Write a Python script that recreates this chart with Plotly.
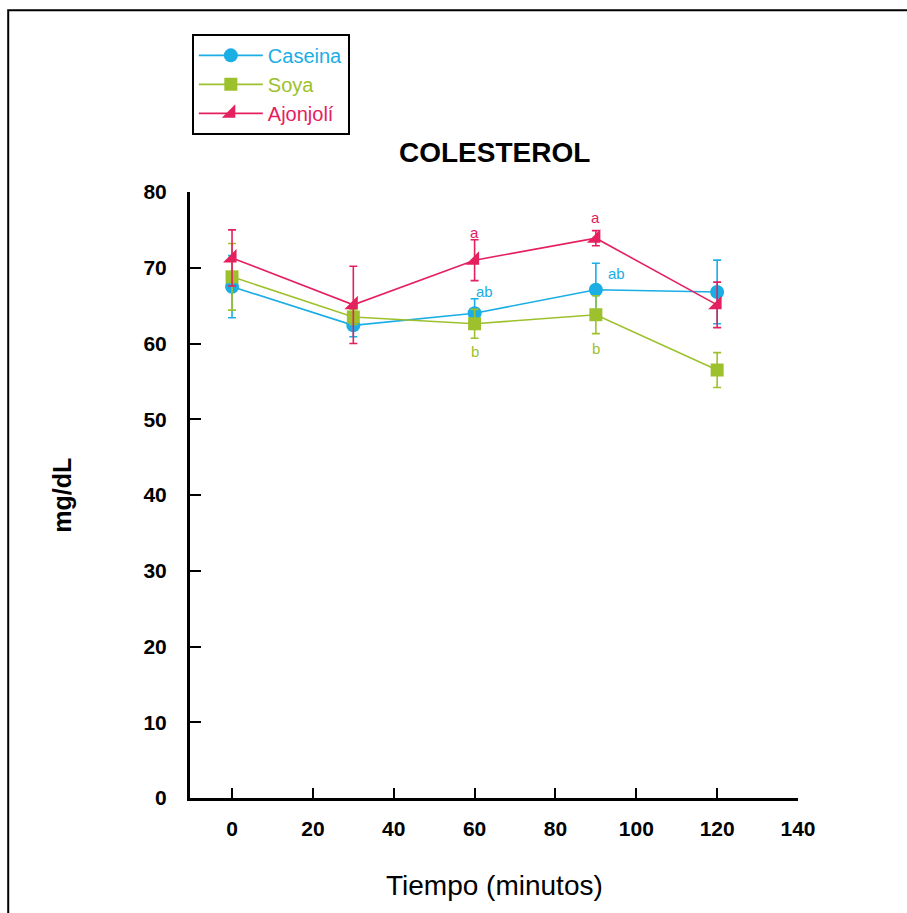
import plotly.graph_objects as go

tiempo = [0, 30, 60, 90, 120]
caseina = [67.5, 62.4, 64.0, 67.1, 66.8]
caseina_err = [4.1, 1.5, 1.9, 3.5, 4.2]
soya = [68.8, 63.5, 62.6, 63.8, 56.5]
soya_err = [4.4, 1.0, 1.9, 2.5, 2.3]
ajonjoli = [71.3, 65.1, 71.0, 73.9, 65.1]
ajonjoli_err = [3.7, 5.1, 2.7, 1.0, 3.0]

x_ticks = [0, 20, 40, 60, 80, 100, 120, 140]
y_ticks = [0, 10, 20, 30, 40, 50, 60, 70, 80]

C_CAS = "#1aaee5"
C_SOY = "#9dc12d"
C_AJO = "#e5205f"

# letters: (x, y, text, color)
letras_x = [60, 90, 60, 90, 60, 90]
letras_y = [74.7, 76.7, 66.9, 69.3, 58.9, 59.4]
letras_t = ["a", "a", "ab", "ab", "b", "b"]
letras_c = [C_AJO, C_AJO, C_CAS, C_CAS, C_SOY, C_SOY]
letras_dx = [0, 0, 2.5, 5, 0, 0]

FONT = "Liberation Sans"

fig = go.Figure()

def add(name, y, err, color, symbol, size):
    fig.add_trace(go.Scatter(
        x=tiempo, y=y, mode="lines+markers",
        name=f'<span style="color:{color}">{name}</span>',
        line=dict(color=color, width=1.6),
        marker=dict(symbol=symbol, size=size, color=color),
        error_y=dict(type="data", array=err, color=color, thickness=1.6, width=4),
    ))

add("Caseina", caseina, caseina_err, C_CAS, "circle", 14)
add("Soya", soya, soya_err, C_SOY, "square", 13)
add("Ajonjolí", ajonjoli, ajonjoli_err, C_AJO, "triangle-se", 15)

for xx, yy, t, c, dx in zip(letras_x, letras_y, letras_t, letras_c, letras_dx):
    fig.add_annotation(x=xx + dx, y=yy, text=t, showarrow=False,
                       xanchor="center", yanchor="middle",
                       font=dict(size=15, color=c, family=FONT))

fig.add_annotation(x=0.5, y=1.066, xref="paper", yref="paper", text="<b>COLESTEROL</b>",
                   xanchor="center", yanchor="middle",
                   showarrow=False, font=dict(size=28, color="black", family=FONT))
fig.add_annotation(x=-0.211, y=0.5, xref="paper", yref="paper", text="<b>mg/dL</b>",
                   xanchor="center", yanchor="middle",
                   textangle=-90, showarrow=False,
                   font=dict(size=25, color="black", family=FONT))
fig.add_annotation(x=0.5, y=-0.145, xref="paper", yref="paper", text="Tiempo (minutos)",
                   xanchor="center", yanchor="middle",
                   showarrow=False, font=dict(size=28, color="black", family=FONT))

# outer frame
fig.add_shape(type="rect", xref="paper", yref="paper",
              x0=-0.299, y0=-0.3, x1=1.3, y1=1.300,
              line=dict(color="black", width=2))

fig.update_layout(
    width=907, height=913,
    margin=dict(l=190, r=109, t=192, b=115),
    paper_bgcolor="white", plot_bgcolor="white",
    font=dict(family=FONT, color="black"),
    showlegend=True,
    legend=dict(x=0.003, y=1.261, xanchor="left", yanchor="top",
                bordercolor="black", borderwidth=2, bgcolor="white",
                font=dict(size=20, family=FONT),
                itemwidth=64, tracegroupgap=0),
    xaxis=dict(range=[-10.4, 140], tickvals=x_ticks, showgrid=False, zeroline=False,
               showline=True, linecolor="black", linewidth=3,
               ticks="inside", ticklen=10, tickwidth=2, tickcolor="black",
               ticklabelstandoff=10,
               tickfont=dict(size=21, family=FONT, color="black", weight="bold")),
    yaxis=dict(range=[0, 80], tickvals=y_ticks, showgrid=False, zeroline=False,
               showline=True, linecolor="black", linewidth=3,
               ticks="inside", ticklen=11, tickwidth=2, tickcolor="black",
               ticklabelstandoff=16,
               tickfont=dict(size=21, family=FONT, color="black", weight="bold")),
)

fig.write_html("out.html")
